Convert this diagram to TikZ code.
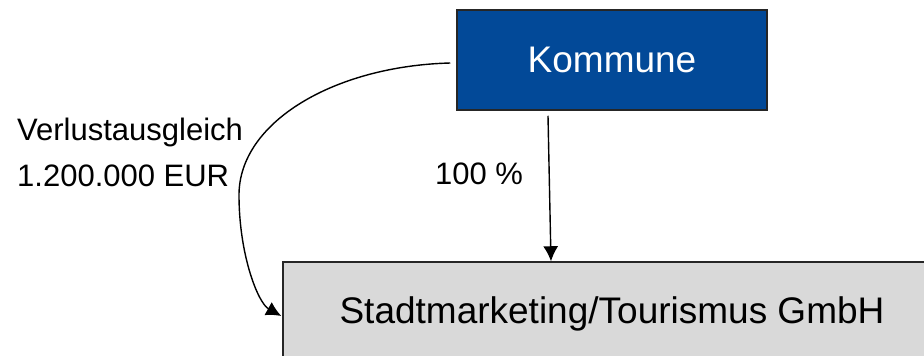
\documentclass[tikz,border=0pt]{standalone}
\usepackage{fontspec}
\setmainfont{Liberation Sans}
\usetikzlibrary{arrows.meta,calc}
\definecolor{komblue}{RGB}{2,73,152}
\definecolor{gmbhgray}{RGB}{217,217,217}
\tikzset{
  boxbase/.style={rectangle, draw=black!85, line width=1.5pt, inner sep=0pt,
                  font=\fontsize{37pt}{44pt}\selectfont},
  kbox/.style={boxbase, fill=komblue, text=white},
  sbox/.style={boxbase, fill=gmbhgray, text=black},
  lbl/.style={anchor=base west, inner sep=0pt, font=\fontsize{31pt}{37pt}\selectfont},
  link/.style={line width=1.4pt, -{Latex[length=15pt,width=15pt]}}
}
\begin{document}
\begin{tikzpicture}[x=1pt,y=-1pt]
  \useasboundingbox (0,0) rectangle (924,356);
  \clip (0,0) rectangle (924,356);

  % the two organisations
  \node[kbox, minimum width=310pt, minimum height=100pt] (kom) at (612,60) {Kommune};
  \node[sbox, minimum width=658pt, minimum height=104pt] (stad) at (612,314)
       {Stadtmarketing/Tourismus GmbH};

  % labels
  \node[lbl] (v1) at (17,140) {Verlustausgleich};
  \node[lbl] (v2) at (17,186) {1.200.000 EUR};
  \node[lbl] (pct) at (435,184) {100 \%};

  % shareholding
  \draw[link] ($(kom.south)+(-64,5)$) -- ($(stad.north)+(-61,0)$);

  % loss compensation
  \coordinate (cs) at ($(kom.west)+(-6,3)$);
  \coordinate (cm) at (239,195);
  \coordinate (ce) at ($(stad.west)+(-1,2)$);
  \draw[link] (cs) .. controls (334.5,66) and (239,122) .. (cm)
                   .. controls (239,255) and (258,303) .. (ce);
\end{tikzpicture}
\end{document}
